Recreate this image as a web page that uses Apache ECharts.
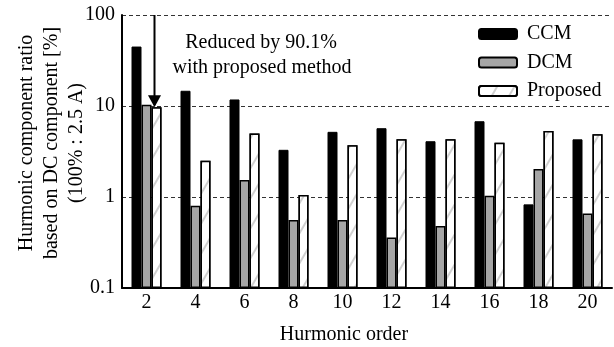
<!DOCTYPE html>
<html><head><meta charset="utf-8">
<script src="https://cdn.jsdelivr.net/npm/echarts@6/dist/echarts.min.js"></script>
<style>html,body{margin:0;padding:0;background:#fff}#c{width:614px;height:347px}</style>
</head><body><div id="c"></div>
<script>
const categories = ['2','4','6','8','10','12','14','16','18','20'];
const ccm = [45, 14.7, 11.8, 3.3, 5.2, 5.7, 4.1, 6.8, 0.83, 4.3];
const dcm = [10.3, 0.8, 1.54, 0.56, 0.56, 0.36, 0.48, 1.03, 2.03, 0.66];
const proposed = [9.7, 2.5, 5.0, 1.05, 3.7, 4.3, 4.3, 3.95, 5.3, 4.9];
const seriesNames = ['CCM', 'DCM', 'Proposed'];
const yName = ['Hurmonic component ratio', 'based on DC component [%]', '(100% : 2.5 A)'];
const xName = 'Hurmonic order';
const note = ['Reduced by 90.1%', 'with proposed method'];

const FONT = 'Liberation Serif';
const chart = echarts.init(document.getElementById('c'), null, {renderer: 'canvas'});
const option = {
  animation: false,
  backgroundColor: '#fff',
  textStyle: {fontFamily: FONT, color: '#000'},
  grid: {left: 122, right: 2, top: 15, bottom: 59, containLabel: false},
  legend: {
    orient: 'vertical', left: 473, top: 19, itemWidth: 38, itemHeight: 10, itemGap: 8.5,
    textStyle: {fontFamily: FONT, fontSize: 20, color: '#000', padding: [0, 0, 0, 5]},
    data: seriesNames
  },
  xAxis: {
    type: 'category', data: categories,
    axisLine: {lineStyle: {color: '#000', width: 2}},
    axisTick: {show: false},
    axisLabel: {fontFamily: FONT, fontSize: 20, color: '#000', margin: 5}
  },
  yAxis: {
    type: 'log', logBase: 10, min: 0.1, max: 100, startValue: 0.1,
    axisLine: {show: true, lineStyle: {color: '#000', width: 2}},
    axisTick: {show: false},
    axisLabel: {fontFamily: FONT, fontSize: 20, color: '#000', margin: 7,
      formatter: v => (Math.abs(v - 0.1) < 1e-9 ? '0.1' : String(Math.round(v)))},
    splitLine: {show: true, lineStyle: {color: '#333', width: 1, type: [4, 3]}}
  },
  series: [
    {name: seriesNames[0], type: 'bar', data: ccm, barWidth: 10, barGap: '0%',
     itemStyle: {color: '#000', borderColor: '#000', borderWidth: 1}},
    {name: seriesNames[1], type: 'bar', data: dcm, barWidth: 10, barGap: '0%',
     itemStyle: {color: '#a6a6a6', borderColor: '#000', borderWidth: 1.5}},
    {name: seriesNames[2], type: 'bar', data: proposed, barWidth: 10, barGap: '0%',
     itemStyle: {color: '#fff', borderColor: '#000', borderWidth: 1.5,
       decal: {symbol: 'rect', symbolSize: 1, color: '#d0d0d0', backgroundColor: '#fff',
               dashArrayX: [1, 0], dashArrayY: [1.2, 13], rotation: -Math.PI / 3}}}
  ]
};
chart.setOption(option);

// Arrow pointing at the Proposed bar of the 2nd harmonic
const pTop = chart.convertToPixel({xAxisIndex: 0, yAxisIndex: 0}, [categories[0], 100]);
const pTip = chart.convertToPixel({xAxisIndex: 0, yAxisIndex: 0}, [categories[0], proposed[0]]);
const ax = pTip[0] + 8;
const tf = '20px "Liberation Serif"';
chart.setOption({graphic: [
  {type: 'text', x: 52, y: 143, rotation: Math.PI / 2,
   style: {text: yName.join('\n'), font: tf, fill: '#000', align: 'center', verticalAlign: 'middle', lineHeight: 25}},
  {type: 'text', x: 344, y: 335,
   style: {text: xName, font: tf, fill: '#000', align: 'center', verticalAlign: 'middle'}},
  {type: 'text', x: 261, y: 43,
   style: {text: note[0], font: tf, fill: '#000', align: 'center', verticalAlign: 'middle'}},
  {type: 'text', x: 262, y: 68,
   style: {text: note[1], font: tf, fill: '#000', align: 'center', verticalAlign: 'middle'}},
  {type: 'line', shape: {x1: ax, y1: pTop[1], x2: ax, y2: pTip[1] - 10}, style: {stroke: '#000', lineWidth: 2}},
  {type: 'polygon', shape: {points: [[ax - 6.5, pTip[1] - 12], [ax + 6.5, pTip[1] - 12], [ax, pTip[1]]]}, style: {fill: '#000'}}
]});
</script></body></html>
